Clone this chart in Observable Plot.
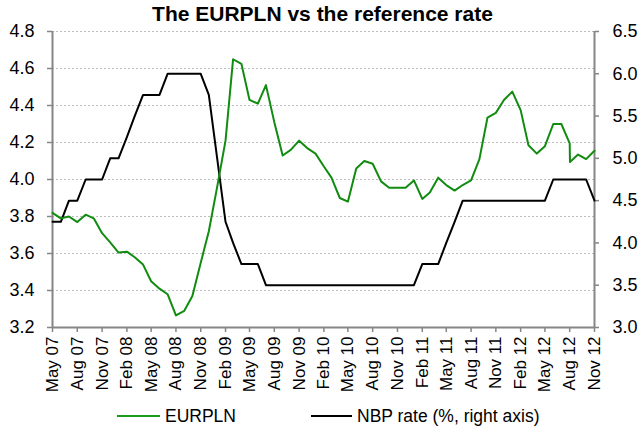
<!DOCTYPE html>
<html>
<head>
<meta charset="utf-8">
<script src="https://cdn.jsdelivr.net/npm/d3@7"></script>
<script src="https://cdn.jsdelivr.net/npm/@observablehq/plot@0.6"></script>
<style>
  body { margin: 0; background: #fff; font-family: "Liberation Sans", Arial, sans-serif; }
  #wrap { position: relative; width: 639px; height: 432px; }
  #title { position: absolute; left: 3px; width: 639px; top: 2px; text-align: center; font-weight: bold; font-size: 21px; color: #000; }
  #legend { position: absolute; top: 405px; left: 0; width: 639px; height: 22px; font-size: 17.5px; color: #000; }
  .item { position: absolute; top: 0; display: flex; align-items: center; height: 22px; }
  .swatch { display: inline-block; height: 0; margin-right: 5px; }
</style>
</head>
<body>
<div id="wrap">
  <div id="chart"></div>
  <div id="title">The EURPLN vs the reference rate</div>
  <div id="legend">
    <div class="item" style="left:117px"><span class="swatch" style="width:43px;border-top:2px solid #1a9a1a"></span>EURPLN</div>
    <div class="item" style="left:311px"><span class="swatch" style="width:41px;border-top:2px solid #000"></span>NBP rate (%, right axis)</div>
  </div>
</div>
<script>
// Monthly observations, May 2007 - Nov 2012
const startMonth = "2007-05-01";
const endMonth = "2012-11-01";
const eurplnValues = [
  3.82, 3.79, 3.80, 3.77, 3.81, 3.79, 3.71, 3.66, 3.605, 3.61, 3.58, 3.54,
  3.45, 3.41, 3.38, 3.265, 3.29, 3.37, 3.55, 3.72, 3.96, 4.21, 4.65, 4.625,
  4.43, 4.41, 4.51, 4.31, 4.13, 4.16, 4.21, 4.17, 4.14, 4.07, 4.01, 3.90,
  3.88, 4.06, 4.10, 4.085, 3.99, 3.955, 3.955, 3.955, 3.995, 3.895, 3.93, 4.01,
  3.97, 3.94, 3.97, 3.995, 4.11, 4.335, 4.36, 4.43, 4.475, 4.375, 4.185, 4.14,
  4.18, 4.30, 4.30, 4.195, 4.135, 4.11, 4.155
];
// an extra intra-month EURPLN observation (sharp drop in Aug 12)
const eurplnExtraDate = "2012-08-02";
const eurplnExtraValue = 4.095;
const nbpRate = [
  4.25, 4.25, 4.5, 4.5, 4.75, 4.75, 4.75, 5.0, 5.0, 5.25, 5.5, 5.75,
  5.75, 5.75, 6.0, 6.0, 6.0, 6.0, 6.0, 5.75, 5.0, 4.25, 4.0, 3.75,
  3.75, 3.75, 3.5, 3.5, 3.5, 3.5, 3.5, 3.5, 3.5, 3.5, 3.5, 3.5,
  3.5, 3.5, 3.5, 3.5, 3.5, 3.5, 3.5, 3.5, 3.5, 3.75, 3.75, 3.75,
  4.0, 4.25, 4.5, 4.5, 4.5, 4.5, 4.5, 4.5, 4.5, 4.5, 4.5, 4.5,
  4.5, 4.75, 4.75, 4.75, 4.75, 4.75, 4.5
];
const leftTicks = [3.2, 3.4, 3.6, 3.8, 4.0, 4.2, 4.4, 4.6, 4.8];
const rightTicks = [3.0, 3.5, 4.0, 4.5, 5.0, 5.5, 6.0, 6.5];
const leftDomain = [3.2, 4.8];
const rightDomain = [3.0, 6.5];

const t0 = new Date(startMonth + "T00:00:00Z");
const t1 = new Date(endMonth + "T00:00:00Z");
const months = d3.utcMonth.range(t0, d3.utcMonth.offset(t1, 1));
const xTicks = d3.utcMonth.range(t0, d3.utcMonth.offset(t1, 1), 3);

// map right-axis values onto the left scale
const toLeft = v => leftDomain[0] + (v - rightDomain[0]) * (leftDomain[1] - leftDomain[0]) / (rightDomain[1] - rightDomain[0]);
const fromLeft = v => rightDomain[0] + (v - leftDomain[0]) * (rightDomain[1] - rightDomain[0]) / (leftDomain[1] - leftDomain[0]);

const eur = months.map((d, i) => ({date: d, value: eurplnValues[i]}));
eur.push({date: new Date(eurplnExtraDate + "T00:00:00Z"), value: eurplnExtraValue});
eur.sort((a, b) => a.date - b.date);
const nbp = months.map((d, i) => ({date: d, value: toLeft(nbpRate[i])}));

const fmt = d3.utcFormat("%b %y");
const axisGray = "#868686";

const chart = Plot.plot({
  width: 639,
  height: 432,
  marginTop: 31,
  marginBottom: 105,
  marginLeft: 52,
  marginRight: 45,
  style: {fontFamily: "'Liberation Sans', Arial, sans-serif", fontSize: "18px", color: "#000", background: "#fff"},
  x: {type: "utc", domain: [t0, t1]},
  y: {domain: leftDomain},
  marks: [
    Plot.gridY(leftTicks.filter(d => d > 3.2), {stroke: "#bdbdbd", strokeOpacity: 1, strokeDasharray: "2,2"}),
    Plot.axisY(leftTicks, {anchor: "left", tickFormat: d => d.toFixed(1), tickSize: 5, tickPadding: 13, stroke: axisGray, strokeWidth: 1.5, fontSize: 18, label: null}),
    Plot.axisY(rightTicks.map(toLeft), {anchor: "right", tickFormat: d => fromLeft(d).toFixed(1), tickSize: 4, tickPadding: 14, stroke: axisGray, strokeWidth: 1.5, fontSize: 18, label: null}),
    Plot.axisX(xTicks, {anchor: "bottom", tickFormat: fmt, tickRotate: -90, tickSize: 5, tickPadding: 4, stroke: axisGray, strokeWidth: 1.5, fontSize: 17, label: null}),
    Plot.ruleX([t0, t1], {stroke: axisGray, strokeWidth: 2}),
    Plot.ruleY([3.2], {stroke: axisGray, strokeWidth: 2}),
    Plot.line(nbp, {x: "date", y: "value", stroke: "#000", strokeWidth: 2}),
    Plot.line(eur, {x: "date", y: "value", stroke: "#118c11", strokeWidth: 2})
  ]
});
document.getElementById("chart").appendChild(chart);
</script>
</body>
</html>
